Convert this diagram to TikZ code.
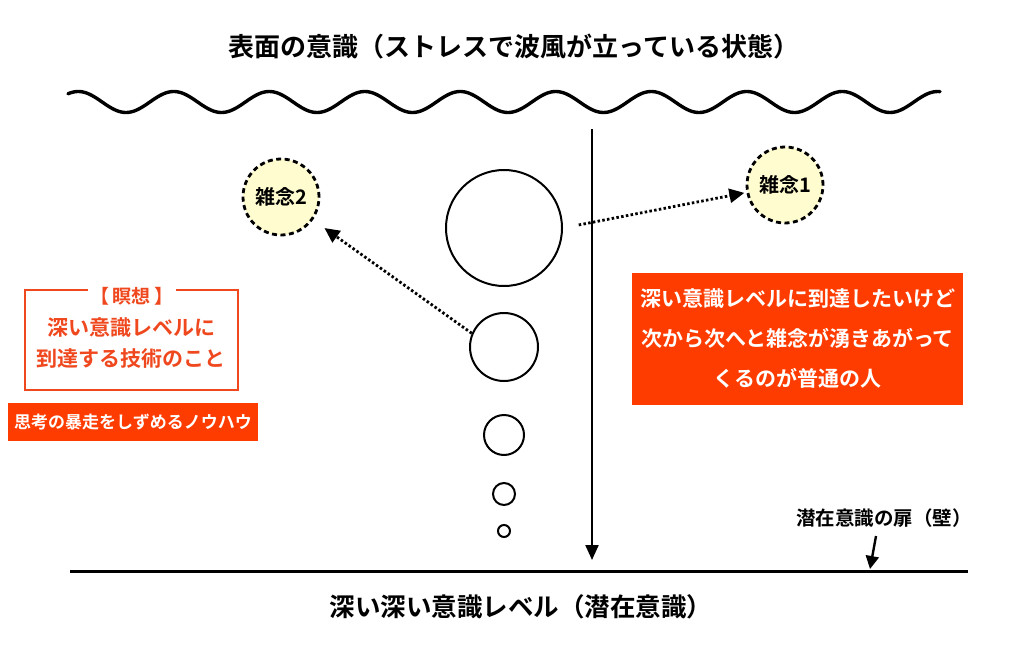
\documentclass[tikz,border=0pt]{standalone}
\usepackage{fontspec}
\setmainfont{Noto Sans CJK JP}[BoldFont={* Bold}]
\usetikzlibrary{arrows.meta,calc}
\definecolor{orred}{RGB}{255,60,0}
\definecolor{orline}{RGB}{240,72,30}
\definecolor{paleyel}{RGB}{255,252,208}
\tikzset{
  bubble/.style={circle,draw=black,line width=2pt,inner sep=0pt},
  zatsu/.style={circle,draw=black,fill=paleyel,line width=2.8pt,dash pattern=on 5pt off 3.5pt,minimum size=76pt,inner sep=0pt,font=\bfseries\fontsize{20}{24}\selectfont},
  dotarrow/.style={line width=2.8pt,dash pattern=on 2.5pt off 2.3pt,-{Triangle[length=15pt,width=14pt]}},
  label/.style={font=\bfseries\fontsize{26}{30}\selectfont,inner sep=0pt},
}
\begin{document}
\begin{tikzpicture}[x=1pt,y=-1pt]
\path[use as bounding box,fill=white] (0,0) rectangle (1024,650);
% title
\node[label] (title) at (514,47) {表面の意識（ストレスで波風が立っている状態）};
\node[label,font=\bfseries\fontsize{25.5}{30}\selectfont] (bottom) at (521,607) {深い深い意識レベル（潜在意識）};
% wave
\draw[line width=3.4pt,line cap=round] plot[domain=68:940,samples=400,smooth] (\x,{102+10.5*cos(((\x-126)/95.5)*360)});
% bottom line
\coordinate (bl) at (70,571);
\coordinate (br) at (968,571);
\draw[line width=3pt] (bl) -- (br);
% vertical arrow
\coordinate (vt) at (592,129);
\coordinate (vb) at (592,560);
\draw[line width=2.2pt,-{Triangle[length=15pt,width=13pt]}] (vt) -- (vb);
% bubbles
\node[bubble,minimum size=116pt] (b1) at (504,228) {};
\node[bubble,minimum size=68pt] (b2) at (504,347) {};
\node[bubble,minimum size=40pt] (b3) at (504,435) {};
\node[bubble,minimum size=22pt] (b4) at (504,494) {};
\node[bubble,minimum size=12pt] (b5) at (504,531) {};
% zatsunen
\node[zatsu] (n2) at (281,197) {雑念2};
\node[zatsu] (n1) at (785,185) {雑念1};
\draw[dotarrow,shorten >=14pt] (b2.157) -- (n2);
\draw[dotarrow,shorten <=16pt,shorten >=2pt] (b1.east) -- (n1);
% door label
\node[inner sep=0pt,font=\bfseries\fontsize{19.5}{24}\selectfont] (door) at (884,518) {潜在意識の扉（壁）};
\coordinate (dp) at (870,569);
\draw[line width=2.4pt,-{Triangle[length=13pt,width=13pt]}] (876,536) -- (dp);
% meditation box
\node[draw=orline,line width=1.6pt,minimum width=213pt,minimum height=100pt,inner sep=0pt] (med) at (131.5,340) {};
\node[fill=white,inner xsep=3pt,inner ysep=1pt,text=orline,font=\bfseries\fontsize{19}{22}\selectfont] (medt) at (132,296) {【\,瞑想\,】};
\node[text=orline,align=center,font=\bfseries\fontsize{21}{31}\selectfont,inner sep=0pt] (medx) at (131,343) {深い意識レベルに\\到達する技術のこと};
% know-how box
\node[fill=orred,text=white,minimum width=250pt,minimum height=38pt,inner sep=0pt,font=\bfseries\fontsize{17}{20}\selectfont] (know) at (133,422) {思考の暴走をしずめるノウハウ};
% right box
\node[fill=orred,text=white,minimum width=331pt,minimum height=132pt,inner sep=0pt,align=center,font=\bfseries\fontsize{21}{40}\selectfont] (rbox) at (797.5,339) {深い意識レベルに到達したいけど\\次から次へと雑念が湧きあがって\\くるのが普通の人};
\end{tikzpicture}
\end{document}
